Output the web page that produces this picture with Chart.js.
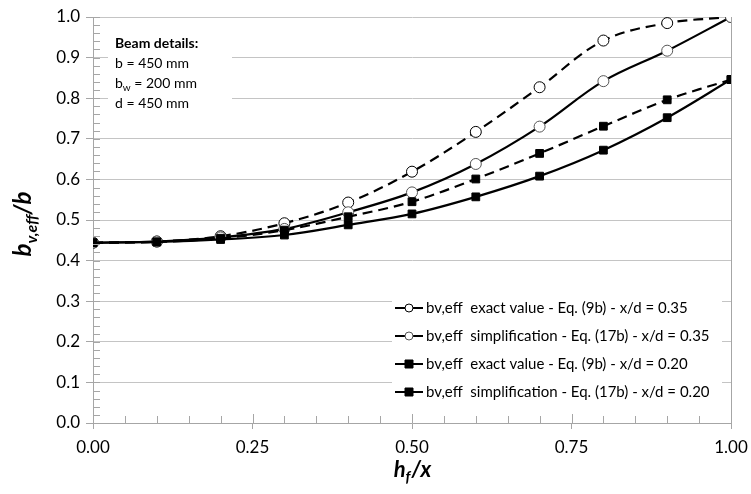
<!DOCTYPE html>
<html>
<head>
<meta charset="utf-8">
<script src="https://cdn.jsdelivr.net/npm/chart.js@4.4.0/dist/chart.umd.min.js"></script>
<style>
  html, body { margin: 0; padding: 0; background: #fff; }
  #wrap { width: 751px; height: 494px; position: relative; }
</style>
</head>
<body>
<div id="wrap"><canvas id="chart"></canvas></div>
<script>
// data
const hfx = [0.0, 0.1, 0.2, 0.3, 0.4, 0.5, 0.6, 0.7, 0.8, 0.9, 1.0];
const exact035 = [0.444, 0.447, 0.460, 0.492, 0.543, 0.619, 0.717, 0.827, 0.942, 0.985, 1.000];
const simp035  = [0.444, 0.447, 0.457, 0.478, 0.519, 0.568, 0.638, 0.730, 0.842, 0.917, 1.000];
const exact020 = [0.444, 0.446, 0.455, 0.475, 0.508, 0.545, 0.601, 0.664, 0.731, 0.796, 0.846];
const simp020  = [0.444, 0.446, 0.452, 0.463, 0.488, 0.515, 0.557, 0.608, 0.672, 0.752, 0.846];
const seriesLabels = [
    'bv,eff  exact value - Eq. (9b) - x/d = 0.35',
    'bv,eff  simplification - Eq. (17b) - x/d = 0.35',
    'bv,eff  exact value - Eq. (9b) - x/d = 0.20',
    'bv,eff  simplification - Eq. (17b) - x/d = 0.20'
];
const beamDetails = ['Beam details:', 'b = 450 mm', ['b', 'w', ' = 200 mm'], 'd = 450 mm'];

const FONT = 'Lato, "Open Sans", sans-serif';
const AXIS_GRAY = '#a6a6a6';

function pts(ys) {
    return hfx.map((x, i) => ({ x: x, y: ys[i] }));
}

const styles = [
    { dash: [10, 6], point: 'circle', fill: '#fff', border: '#000', r: 5.5 },
    { dash: [],      point: 'circle', fill: '#fff', border: '#555', r: 5.5 },
    { dash: [10, 6], point: 'rect',   fill: '#000', border: '#000', r: 5.5 },
    { dash: [],      point: 'rect',   fill: '#000', border: '#000', r: 5.5 }
];
const allSeries = [exact035, simp035, exact020, simp020];

const datasets = allSeries.map((ys, i) => ({
    label: seriesLabels[i],
    data: pts(ys),
    borderColor: '#000',
    borderWidth: 2.2,
    borderDash: styles[i].dash,
    tension: 0.35,
    pointStyle: styles[i].point,
    pointRadius: styles[i].r,
    pointBackgroundColor: styles[i].fill,
    pointBorderColor: styles[i].border,
    pointBorderWidth: 1,
    order: 4 - i
}));

// minor ticks + axis titles + in-plot boxes
const decorPlugin = {
    id: 'decor',
    afterDraw(chart) {
        const ctx = chart.ctx;
        const a = chart.chartArea;
        const xs = chart.scales.x, ys = chart.scales.y;
        ctx.save();
        ctx.strokeStyle = AXIS_GRAY;
        ctx.lineWidth = 1;
        // y minor ticks (inside)
        for (let v = 0; v <= 1.0001; v += 0.02) {
            const py = Math.round(ys.getPixelForValue(v)) + 0.5;
            ctx.beginPath();
            ctx.moveTo(a.left, py);
            ctx.lineTo(a.left + 7, py);
            ctx.stroke();
        }
        // x minor ticks (inside), major ones a little longer
        for (let v = 0; v <= 1.0001; v += 0.05) {
            const px = Math.round(xs.getPixelForValue(v)) + 0.5;
            const major = Math.abs(v / 0.25 - Math.round(v / 0.25)) < 1e-6;
            ctx.beginPath();
            ctx.moveTo(px, a.bottom);
            ctx.lineTo(px, a.bottom - (major ? 9 : 7));
            ctx.stroke();
        }

        // y title: b_{v,eff}/b
        ctx.fillStyle = '#000';
        ctx.textBaseline = 'alphabetic';
        ctx.save();
        ctx.translate(31, (a.top + a.bottom) / 2 + 4);
        ctx.rotate(-Math.PI / 2);
        let big = 'italic bold 24px ' + FONT, small = 'italic bold 16px ' + FONT;
        ctx.font = big; const w1 = ctx.measureText('b').width;
        ctx.font = small; const w2 = ctx.measureText('v,eff').width;
        ctx.font = big; const w3 = ctx.measureText('/b').width;
        let x0 = -(w1 + w2 + w3) / 2;
        ctx.font = big; ctx.fillText('b', x0, 0);
        ctx.font = small; ctx.fillText('v,eff', x0 + w1, 6);
        ctx.font = big; ctx.fillText('/b', x0 + w1 + w2, 0);
        ctx.restore();

        // x title: h_f/x
        big = 'italic bold 22px ' + FONT; small = 'italic bold 15px ' + FONT;
        const cx = (a.left + a.right) / 2, by = 477;
        ctx.font = big; const h1 = ctx.measureText('h').width;
        ctx.font = small; const h2 = ctx.measureText('f').width;
        ctx.font = big; const h3 = ctx.measureText('/x').width;
        x0 = cx - (h1 + h2 + h3) / 2;
        ctx.font = big; ctx.fillText('h', x0, by);
        ctx.font = small; ctx.fillText('f', x0 + h1, by + 5);
        ctx.font = big; ctx.fillText('/x', x0 + h1 + h2 + 1, by);

        // beam details box
        const bx = a.left + 15, bTop = a.top + 13;
        ctx.fillStyle = '#fff';
        ctx.fillRect(bx, bTop, 124, 82);
        ctx.fillStyle = '#000';
        ctx.textBaseline = 'middle';
        beamDetails.forEach((line, i) => {
            const yy = a.top + 26 + i * 20.3;
            if (i === 0) {
                ctx.font = 'bold 14px ' + FONT;
                ctx.fillText(line, bx + 7, yy);
            } else if (Array.isArray(line)) {
                ctx.font = '14px ' + FONT;
                ctx.fillText(line[0], bx + 7, yy);
                const lw = ctx.measureText(line[0]).width;
                ctx.font = '10px ' + FONT;
                ctx.fillText(line[1], bx + 7 + lw, yy + 4);
                const sw = ctx.measureText(line[1]).width;
                ctx.font = '14px ' + FONT;
                ctx.fillText(line[2], bx + 7 + lw + sw, yy);
            } else {
                ctx.font = '14px ' + FONT;
                ctx.fillText(line, bx + 7, yy);
            }
        });

        // legend box
        const lx = 392, lTop = 289;
        ctx.fillStyle = '#fff';
        ctx.fillRect(lx, lTop, 330, 120);
        chart.data.datasets.forEach((ds, i) => {
            const yy = 308 + i * 28;
            const st = styles[i];
            ctx.strokeStyle = '#000';
            ctx.lineWidth = 2;
            ctx.setLineDash([]);
            ctx.beginPath();
            ctx.moveTo(lx + 3, yy);
            ctx.lineTo(lx + 31, yy);
            ctx.stroke();
            ctx.lineWidth = 1;
            ctx.fillStyle = st.fill;
            ctx.strokeStyle = st.border;
            ctx.beginPath();
            if (st.point === 'circle') {
                ctx.arc(lx + 17, yy, 4, 0, Math.PI * 2);
            } else {
                ctx.rect(lx + 13, yy - 4, 8, 8);
            }
            ctx.fill();
            ctx.stroke();
            ctx.fillStyle = '#000';
            ctx.font = '15px ' + FONT;
            ctx.fillText(ds.label, lx + 34, yy);
        });
        ctx.restore();
    }
};

new Chart(document.getElementById('chart'), {
    type: 'line',
    data: { datasets: datasets },
    options: {
        responsive: true,
        maintainAspectRatio: false,
        animation: false,
        layout: { padding: { top: 17, right: 20, left: 0, bottom: 0 } },
        plugins: { legend: { display: false }, tooltip: { enabled: false } },
        scales: {
            x: {
                type: 'linear',
                min: 0, max: 1,
                afterFit(scale) {
                    scale.height = 71;
                    scale.paddingLeft = 0;
                    scale.paddingRight = 0;
                },
                ticks: {
                    stepSize: 0.25,
                    color: '#000',
                    font: { family: FONT, size: 17 },
                    padding: 8,
                    callback: v => v.toFixed(2)
                },
                grid: {
                    color: c => (c.tick && c.tick.value === 1 ? AXIS_GRAY : 'rgba(0,0,0,0)'),
                    tickColor: AXIS_GRAY,
                    tickLength: 6,
                    drawOnChartArea: true
                },
                border: { color: AXIS_GRAY }
            },
            y: {
                type: 'linear',
                min: 0, max: 1,
                afterFit(scale) { scale.width = 93; },
                ticks: {
                    stepSize: 0.1,
                    color: '#000',
                    font: { family: FONT, size: 17 },
                    padding: 6,
                    callback: v => v.toFixed(1)
                },
                grid: { color: '#c4c4c4', tickColor: AXIS_GRAY, tickLength: 7 },
                border: { color: AXIS_GRAY }
            }
        }
    },
    plugins: [decorPlugin]
});
</script>
</body>
</html>
